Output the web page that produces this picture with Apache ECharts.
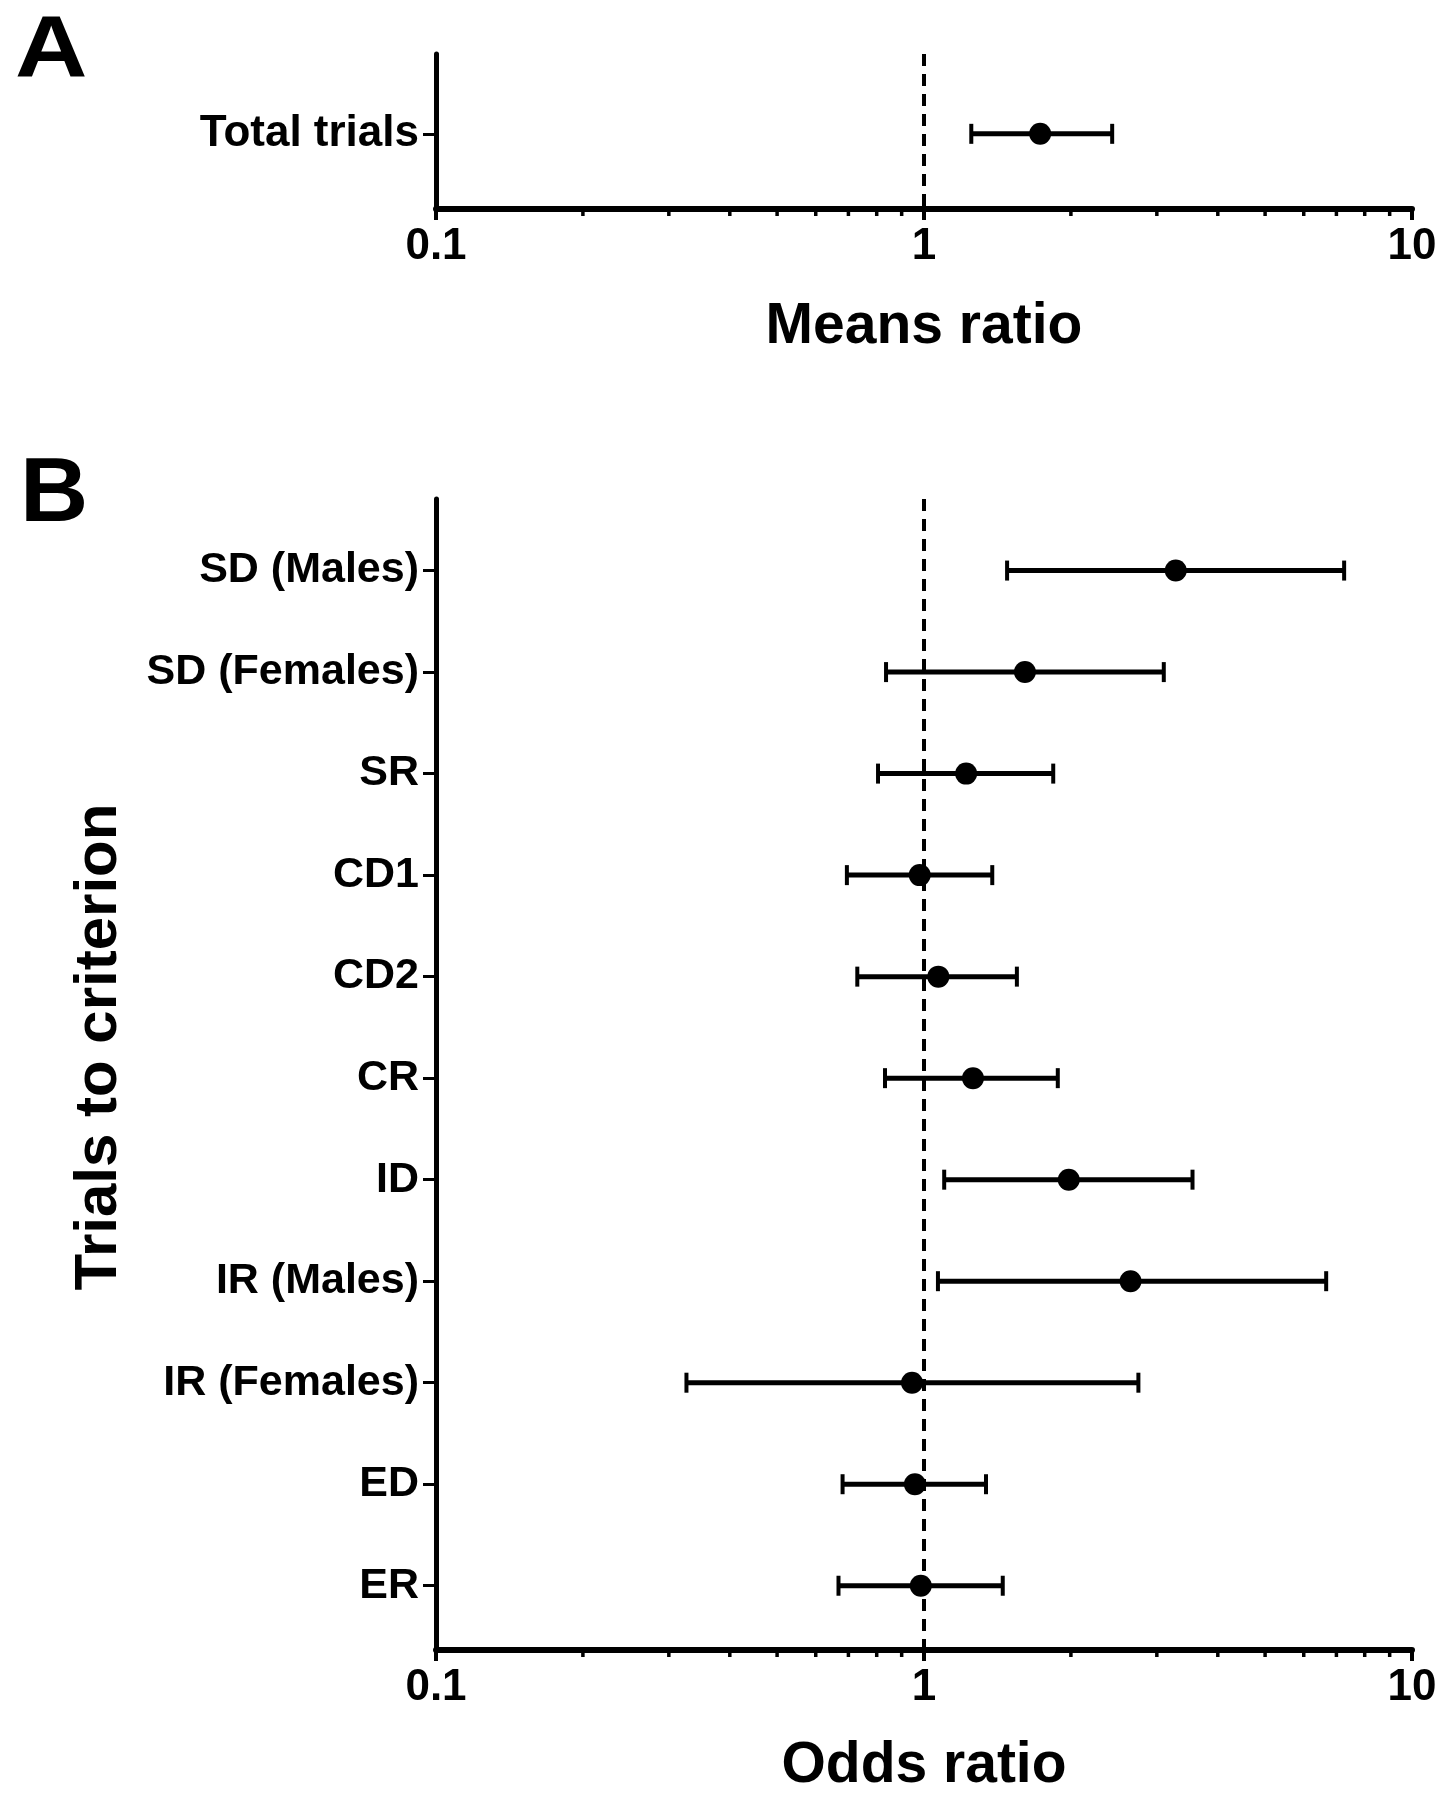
<!DOCTYPE html>
<html>
<head>
<meta charset="utf-8">
<script src="https://cdn.jsdelivr.net/npm/echarts@6/dist/echarts.min.js"></script>
<style>
html,body{margin:0;padding:0;background:#fff;}
#chart{width:1449px;height:1800px;}
</style>
</head>
<body>
<div id="chart"></div>
<script>
// Panel A data
const catsA = ['Total trials'];
const meanA = [1.73];
const lowA = [1.25];
const highA = [2.43];

// Panel B data
const catsB = ['SD (Males)','SD (Females)','SR','CD1','CD2','CR','ID','IR (Males)','IR (Females)','ED','ER'];
const oddsB = [3.28, 1.61, 1.22, 0.98, 1.07, 1.26, 1.98, 2.65, 0.945, 0.958, 0.985];
const lowB  = [1.48, 0.836, 0.805, 0.695, 0.73, 0.832, 1.10, 1.068, 0.326, 0.681, 0.668];
const highB = [7.26, 3.10, 1.84, 1.38, 1.55, 1.88, 3.55, 6.67, 2.75, 1.34, 1.45];

// Axis ticks
const minorTicks = [0.2,0.3,0.4,0.5,0.6,0.7,0.8,0.9,2,3,4,5,6,7,8,9];
const refValue = 1;

const FONT = '"Liberation Sans", Arial, Helvetica, sans-serif';

const chart = echarts.init(document.getElementById('chart'), null, {renderer:'canvas'});

function errRender(params, api) {
  const y = api.value(2);
  const p1 = api.coord([api.value(0), y]);
  const p2 = api.coord([api.value(1), y]);
  const cap = 10;
  const st = {stroke:'#000', lineWidth:5};
  const cst = {stroke:'#000', lineWidth:4};
  return {type:'group', children:[
    {type:'line', shape:{x1:p1[0], y1:p1[1], x2:p2[0], y2:p2[1]}, style:st},
    {type:'line', shape:{x1:p1[0], y1:p1[1]-cap, x2:p1[0], y2:p1[1]+cap}, style:cst},
    {type:'line', shape:{x1:p2[0], y1:p2[1]-cap, x2:p2[0], y2:p2[1]+cap}, style:cst}
  ]};
}
function minorRender(params, api) {
  const cs = params.coordSys;
  const x = api.coord([api.value(0), 0])[0];
  const yb = cs.y + cs.height;
  return {type:'line', shape:{x1:x, y1:yb, x2:x, y2:yb+7}, style:{stroke:'#000', lineWidth:3.5}};
}

function xAxisCfg(gi, name, gap) {
  return {
    type:'log', gridIndex:gi, logBase:10, min:0.1, max:10,
    name:name, nameLocation:'middle', nameGap:gap,
    nameTextStyle:{fontFamily:FONT, fontWeight:'bold', fontSize:57, color:'#000'},
    axisLine:{show:true, onZero:false, lineStyle:{color:'#000', width:6}},
    axisTick:{show:true, length:11, inside:false, lineStyle:{color:'#000', width:4}},
    axisLabel:{show:true, margin:16, fontFamily:FONT, fontWeight:'bold', fontSize:44, color:'#000',
      formatter:function(v){ return String(v); }},
    splitLine:{show:false}, minorTick:{show:false}
  };
}
function yAxisCfg(gi, cats, min, max, fs) {
  const idx = cats.map((c,i)=>i);
  return {
    type:'value', gridIndex:gi, inverse:true, min:min, max:max,
    axisLine:{show:true, onZero:false, lineStyle:{color:'#000', width:5}},
    axisTick:{show:true, length:13, customValues:idx, lineStyle:{color:'#000', width:3}},
    axisLabel:{show:true, margin:17, customValues:idx, fontFamily:FONT, fontWeight:'bold', fontSize:fs, color:'#000',
      formatter:function(v){ const i=Math.round(v); return cats[i] !== undefined ? cats[i] : ''; }},
    splitLine:{show:false}
  };
}

const dashed = {
  silent:true, symbol:['none','none'], label:{show:false},
  lineStyle:{color:'#000', width:4, type:[12,8]},
  data:[{xAxis:refValue}]
};

const option = {
  backgroundColor:'#fff',
  animation:false,
  graphic:[
    {type:'text', left:15, top:8, scaleX:1.14, style:{text:'A', font:'bold 88px ' + FONT, fill:'#000'}},
    {type:'text', left:20, top:451, scaleX:1.05, style:{text:'B', font:'bold 90px ' + FONT, fill:'#000'}},
    {type:'text', x:99, y:1047, rotation:Math.PI/2,
     style:{text:'Trials to criterion', font:'bold 60px ' + FONT, fill:'#000', align:'center', verticalAlign:'middle'}}
  ],
  grid:[
    {left:436, right:37, top:54, height:155, containLabel:false},
    {left:436, right:37, top:499, height:1151, containLabel:false}
  ],
  xAxis:[ xAxisCfg(0,'Means ratio', 90), xAxisCfg(1,'Odds ratio', 88) ],
  yAxis:[ yAxisCfg(0, catsA, -1.03, 0.97, 44), yAxisCfg(1, catsB, -0.705, 10.633, 43) ],
  series:[
    {type:'custom', xAxisIndex:0, yAxisIndex:0, clip:false, renderItem:errRender,
     encode:{x:[0,1], y:2}, data:catsA.map((c,i)=>[lowA[i], highA[i], i]), z:3},
    {type:'scatter', xAxisIndex:0, yAxisIndex:0, symbol:'circle', symbolSize:22,
     itemStyle:{color:'#000', opacity:1}, data:catsA.map((c,i)=>[meanA[i], i]), z:4, markLine:dashed},
    {type:'custom', xAxisIndex:0, yAxisIndex:0, clip:false, renderItem:minorRender,
     encode:{x:0}, data:minorTicks.map(v=>[v]), z:5},
    {type:'custom', xAxisIndex:1, yAxisIndex:1, clip:false, renderItem:errRender,
     encode:{x:[0,1], y:2}, data:catsB.map((c,i)=>[lowB[i], highB[i], i]), z:3},
    {type:'scatter', xAxisIndex:1, yAxisIndex:1, symbol:'circle', symbolSize:22,
     itemStyle:{color:'#000', opacity:1}, data:catsB.map((c,i)=>[oddsB[i], i]), z:4, markLine:dashed},
    {type:'custom', xAxisIndex:1, yAxisIndex:1, clip:false, renderItem:minorRender,
     encode:{x:0}, data:minorTicks.map(v=>[v]), z:5}
  ]
};
chart.setOption(option);
</script>
</body>
</html>
